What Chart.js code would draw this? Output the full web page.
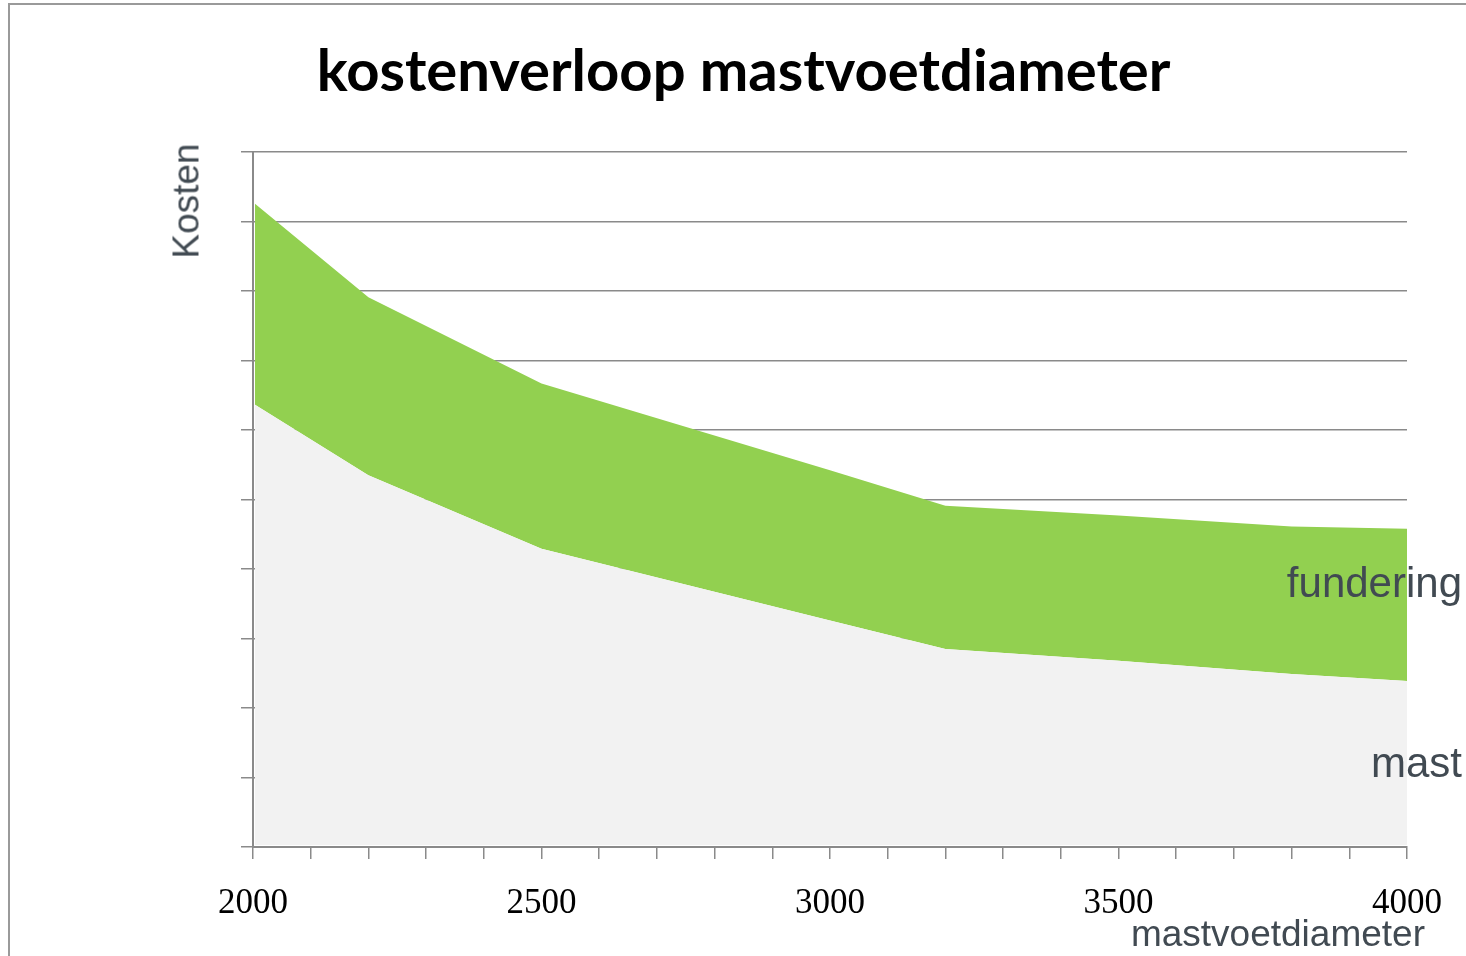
<!DOCTYPE html>
<html>
<head>
<meta charset="utf-8">
<script src="https://cdn.jsdelivr.net/npm/chart.js@4"></script>
<style>
  body { margin: 0; background: #fff; }
  #wrap { position: relative; width: 1466px; height: 956px; overflow: hidden; }
  #frame { position: absolute; left: 8px; top: 3px; width: 1600px; height: 1100px;
           border-top: 2px solid #9a9a9a; border-left: 2px solid #9a9a9a; }
  canvas { position: absolute; left: 0; top: 0; }
  .txt { position: absolute; font-family: "Liberation Sans", Arial, sans-serif; color: #414a52;
         line-height: 1; white-space: nowrap; }
  #title { position: absolute; left: 0; width: 1487px; top: 34px; text-align: center;
           font-family: Lato, sans-serif; font-weight: 700; font-size: 58px; color: #000; line-height: 1.2; }
</style>
</head>
<body>
<div id="wrap">
  <div id="frame"></div>
  <canvas id="myChart" width="1466" height="956"></canvas>
  <div id="title">kostenverloop mastvoetdiameter</div>
  <div class="txt" id="ytitle" style="font-size:37px; left:186px; top:201px; transform: translate(-50%,-50%) rotate(-90deg);">Kosten</div>
  <div class="txt" style="font-size:37px; right:41px; top:915px;">mastvoetdiameter</div>
  <div class="txt" style="font-size:42px; right:4px; top:562px;">fundering</div>
  <div class="txt" style="font-size:42px; right:4px; top:742px;">mast</div>
</div>
<script>
const diameters = [2000, 2200, 2500, 3000, 3200, 3500, 3800, 4000] /*mastvoetdiameter op de x-as*/
const mast = [6.38, 5.35, 4.29, 3.26, 2.85, 2.68, 2.49, 2.39]
const fundering = [2.90, 2.56, 2.38, 2.16, 2.06, 2.09, 2.12, 2.19]
const xTicks = [2000, 2500, 3000, 3500, 4000]

const toPoints = (vals) => vals.map((v, i) => ({x: diameters[i], y: v}));

const data = {
    datasets: [{
        label: 'mast',
        data: toPoints(mast),
        backgroundColor: '#f2f2f2',
        borderWidth: 0,
        pointRadius: 0,
        fill: 'origin',
        clip: {left: -2, top: 0, right: 0, bottom: -2}
    },
    {
        label: 'fundering',
        data: toPoints(fundering),
        backgroundColor: '#92d050',
        borderWidth: 0,
        pointRadius: 0,
        fill: '-1',
        clip: {left: -2, top: 0, right: 0, bottom: -2}
    }]
};

const config = {
    type: 'line',
    data: data,
    options: {
        responsive: false,
        animation: false,
        events: [],
        layout: {padding: {left: 241, right: 58, top: 152, bottom: 7}},
        plugins: {legend: {display: false}, tooltip: {enabled: false}},
        scales: {
            x: {
                type: 'linear',
                min: 2000,
                max: 4000,
                grid: {drawOnChartArea: false, tickLength: 12, color: '#8a8a8a', lineWidth: 1.5},
                border: {color: '#8a8a8a', width: 2},
                ticks: {
                    stepSize: 100,
                    autoSkip: false,
                    maxRotation: 0,
                    padding: 24,
                    color: '#000',
                    font: {family: 'Liberation Serif', size: 35},
                    callback: (v) => xTicks.includes(v) ? String(v) : ''
                }
            },
            y: {
                stacked: true,
                min: 0,
                max: 10,
                grid: {tickLength: 12, color: '#8a8a8a', lineWidth: 1.5},
                border: {color: '#8a8a8a', width: 2},
                ticks: {stepSize: 1, display: false}
            }
        }
    }
};

const myChart = new Chart(
    document.getElementById('myChart'),
    config
);
</script>
</body>
</html>
